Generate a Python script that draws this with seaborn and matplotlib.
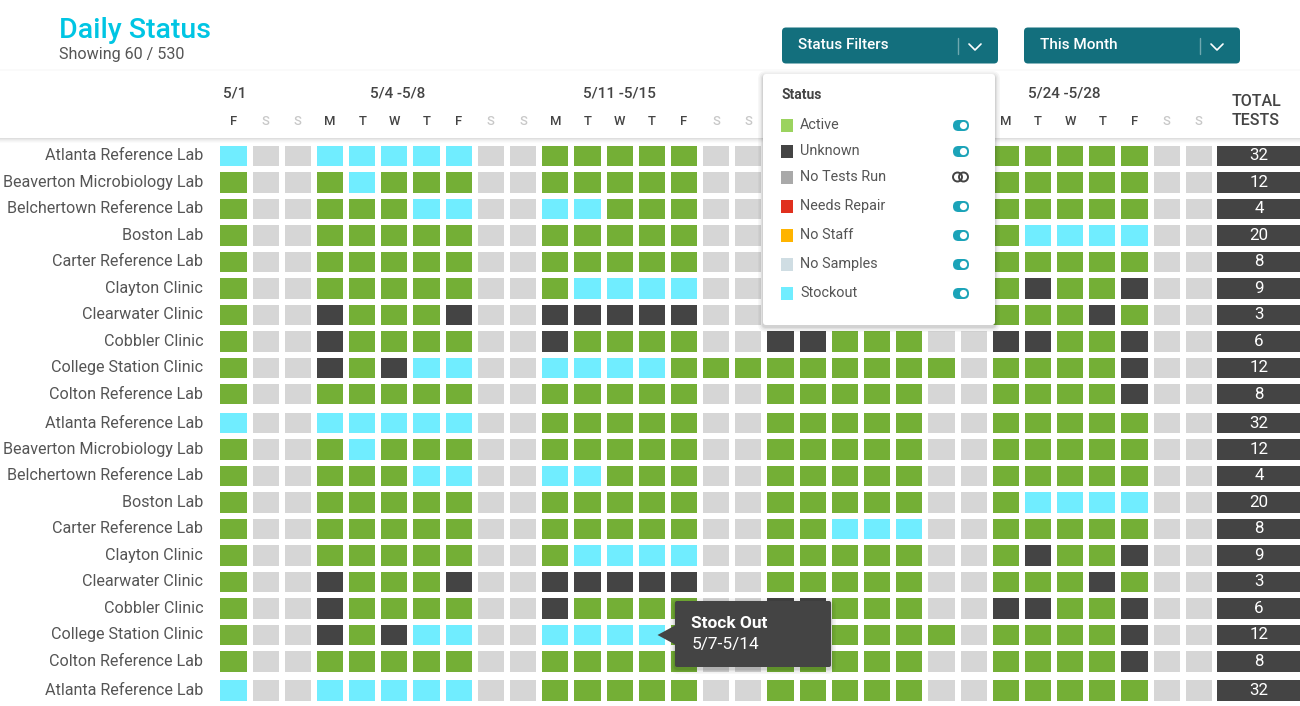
import numpy as np
import pandas as pd
import seaborn as sns
import matplotlib.pyplot as plt
from matplotlib.colors import ListedColormap
from matplotlib.patches import FancyBboxPatch, Polygon, Rectangle, Circle

W, H = 1300, 706

labs = ['Atlanta Reference Lab', 'Beaverton Microbiology Lab', 'Belchertown Reference Lab', 'Boston Lab',
        'Carter Reference Lab', 'Clayton Clinic', 'Clearwater Clinic', 'Cobbler Clinic',
        'College Station Clinic', 'Colton Reference Lab']
days = ['F', 'S', 'S', 'M', 'T', 'W', 'T', 'F', 'S', 'S', 'M', 'T', 'W', 'T', 'F', 'S', 'S',
        'M', 'T', 'W', 'T', 'F', 'S', 'S', 'M', 'T', 'W', 'T', 'F', 'S', 'S']
totals = [32, 12, 4, 20, 8, 9, 3, 6, 12, 8]

# A active, U unknown, X stockout, n no tests run
status_rows = [
    'XnnXXXXXnnAAAAAnnAAAAAnnAAAAAnn',
    'AnnAXAAAnnAAAAAnnAAAAAnnAAAAAnn',
    'AnnAAAXXnnXXAAAnnAAAAAnnAAAAAnn',
    'AnnAAAAAnnAAAAAnnAAAAAnnAXXXXnn',
    'AnnAAAAAnnAAAAAnnAAXXXnnAAAAAnn',
    'AnnAAAAAnnAXXXXnnAAAAAnnAUAAUnn',
    'AnnUAAAUnnUUUUUnnAAAAAnnAAAUAnn',
    'AnnUAAAAnnUAAAAnnUUAAAnnUUAAUnn',
    'AnnUAUXXnnXXXXAAAAAAAAAnAAAAUnn',
    'AnnAAAAAnnAAAAAnnAAAAAnnAAAAUnn',
]
status_code = {'A': 0, 'U': 1, 'X': 2, 'n': 3}

date_labels = ['5/1', '5/4 -5/8', '5/11 -5/15', '5/24 -5/28']
date_x = [235, 398, 619, 1064]

legend_names = ['Active', 'Unknown', 'No Tests Run', 'Needs Repair', 'No Staff', 'No Samples', 'Stockout']
legend_colors = ['#9bd35f', '#444444', '#a9a9a9', '#e0301e', '#ffb400', '#cfdde3', '#70edff']
legend_y = [125, 151, 177, 206, 235, 264, 293]
legend_on = [True, True, False, True, True, True, True]

cell_colors = ['#74af36', '#444444', '#70edff', '#d6d6d6']


def px_axes(left, top, right, bottom, **kw):
    return fig.add_axes([left / W, 1 - bottom / H, (right - left) / W, (bottom - top) / H], **kw)


sns.set_theme(style='white')
plt.rcParams['font.family'] = ['Roboto', 'DejaVu Sans']

fig = plt.figure(figsize=(13, 7.06), dpi=100, facecolor='white')

df = pd.DataFrame([[status_code[c] for c in r] for r in status_rows], index=labs)
tot = pd.DataFrame({'total': totals}, index=labs)

blocks = [(142.75, 10, df, tot), (409.8, 10, df, tot), (677.3, 2, df.iloc[:2], tot.iloc[:2])]
for i, (top, n, part, part_tot) in enumerate(blocks):
    bottom = top + n * 26.47
    ax = px_axes(217.4, top, 1215, bottom)
    sns.heatmap(part, ax=ax, cmap=ListedColormap(cell_colors), vmin=-0.5, vmax=3.5, cbar=False,
                linewidths=4.0, linecolor='white', xticklabels=days, square=False)
    ax.set_ylabel('')
    ylabs = list(part.index)
    if n == 2:
        ylabs[1] = ''
    ax.set_yticklabels(ylabs, rotation=0, fontsize=11.6, color='#555555')
    ax.tick_params(axis='y', length=0, pad=10.2)
    if i == 0:
        ax.xaxis.tick_top()
        ax.tick_params(axis='x', length=0, pad=10.5)
        for t, d in zip(ax.get_xticklabels(), days):
            t.set_rotation(0)
            t.set_fontsize(9.4)
            t.set_fontweight('medium')
            t.set_color('#c8c8c8' if d == 'S' else '#444444')
    else:
        ax.set_xticks([])

    ax2 = px_axes(1214, top, 1304, bottom)
    sns.heatmap(part_tot, ax=ax2, cmap=ListedColormap(['#444444']), cbar=False, linewidths=4.0,
                linecolor='white', annot=True, fmt='d', xticklabels=False, yticklabels=False,
                annot_kws={'color': 'white', 'fontsize': 12.2})

# everything that is not the grid goes on a full size overlay in pixel coords
ov = px_axes(0, 0, W, H, zorder=10)
ov.set_xlim(0, W)
ov.set_ylim(H, 0)
ov.axis('off')
ov.patch.set_alpha(0)


def box(x0, y0, x1, y1, color, r=3, z=2, alpha=1):
    p = FancyBboxPatch((x0 + r, y0 + r), x1 - x0 - 2 * r, y1 - y0 - 2 * r, boxstyle=f'round,pad={r},rounding_size={r}',
                       fc=color, ec='none', alpha=alpha, zorder=z)
    ov.add_patch(p)


def shadow(x0, y0, x1, y1, dy=2, z=1.5):
    for s, a in zip([5, 3.5, 2, 1], [0.03, 0.04, 0.05, 0.06]):
        box(x0 - s, y0 - s + dy, x1 + s, y1 + s + dy, 'black', r=3 + s, z=z, alpha=a)


# header strips
for k, a in enumerate([0.13, 0.09, 0.06, 0.035, 0.015]):
    ov.add_patch(Rectangle((0, 138 + k), W, 1, fc='black', ec='none', alpha=a, zorder=1))
ov.add_patch(Rectangle((0, 69), W, 2, fc='black', ec='none', alpha=0.02, zorder=1))

ov.text(59, 30, 'Daily Status', color='#00c5e3', fontsize=20.5, fontweight='medium', va='center')
ov.text(59, 54.5, 'Showing 60 / 530', color='#555555', fontsize=11.6, va='center')

for lab, x in zip(date_labels, date_x):
    ov.text(x, 93, lab, color='#444444', fontsize=11, fontweight='medium', ha='center', va='center')
ov.text(1256, 102, 'TOTAL', color='#444444', fontsize=11.5, fontweight='medium', ha='center', va='center')
ov.text(1256, 120.5, 'TESTS', color='#444444', fontsize=11.5, fontweight='medium', ha='center', va='center')

# dropdown buttons
for x0, txt in [(782, 'Status Filters'), (1024, 'This Month')]:
    box(x0, 27.5, x0 + 216, 63.5, '#136f7d', r=4)
    ov.text(x0 + 16, 45, txt, color='white', fontsize=11, fontweight='medium', va='center', zorder=3)
    ov.plot([x0 + 176, x0 + 176], [38, 54], color='#6fa8b0', lw=1, zorder=3)
    ov.plot([x0 + 187, x0 + 193, x0 + 199], [44, 50, 44], color='white', lw=1.2, zorder=3)

# status filter panel
shadow(763, 74, 995, 325)
box(763, 74, 995, 325, 'white', r=3)
ov.text(781, 95, 'Status', color='#444444', fontsize=10, fontweight='bold', va='center', zorder=3)
for name, col, y, on in zip(legend_names, legend_colors, legend_y, legend_on):
    ov.add_patch(Rectangle((781, y - 6.5), 12, 13, fc=col, ec='none', zorder=3))
    ov.text(800, y, name, color='#555555', fontsize=10.4, va='center', zorder=3)
    if on:
        box(953, y - 5, 969, y + 6, '#1ba3b8', r=5.4, z=3)
        ov.add_patch(Circle((963.5, y + 0.5), 3.6, fc='white', ec='none', zorder=4))
    else:
        ov.add_patch(Circle((957.5, y), 4.5, fc='none', ec='#444444', lw=1.4, zorder=3))
        ov.add_patch(Circle((963.5, y), 4.5, fc='none', ec='#444444', lw=1.4, zorder=3))

# tooltip
shadow(675, 601, 831, 667, z=1.5)
box(675, 601, 831, 667, '#444444', r=2)
ov.add_patch(Polygon([(676, 625), (657.5, 635), (676, 645)], fc='#444444', ec='none', zorder=2))
ov.text(691, 623, 'Stock Out', color='white', fontsize=12.4, fontweight='bold', va='center', zorder=3)
ov.text(692, 644, '5/7-5/14', color='white', fontsize=12.4, va='center', zorder=3)

fig.savefig('out.png', dpi=100)
